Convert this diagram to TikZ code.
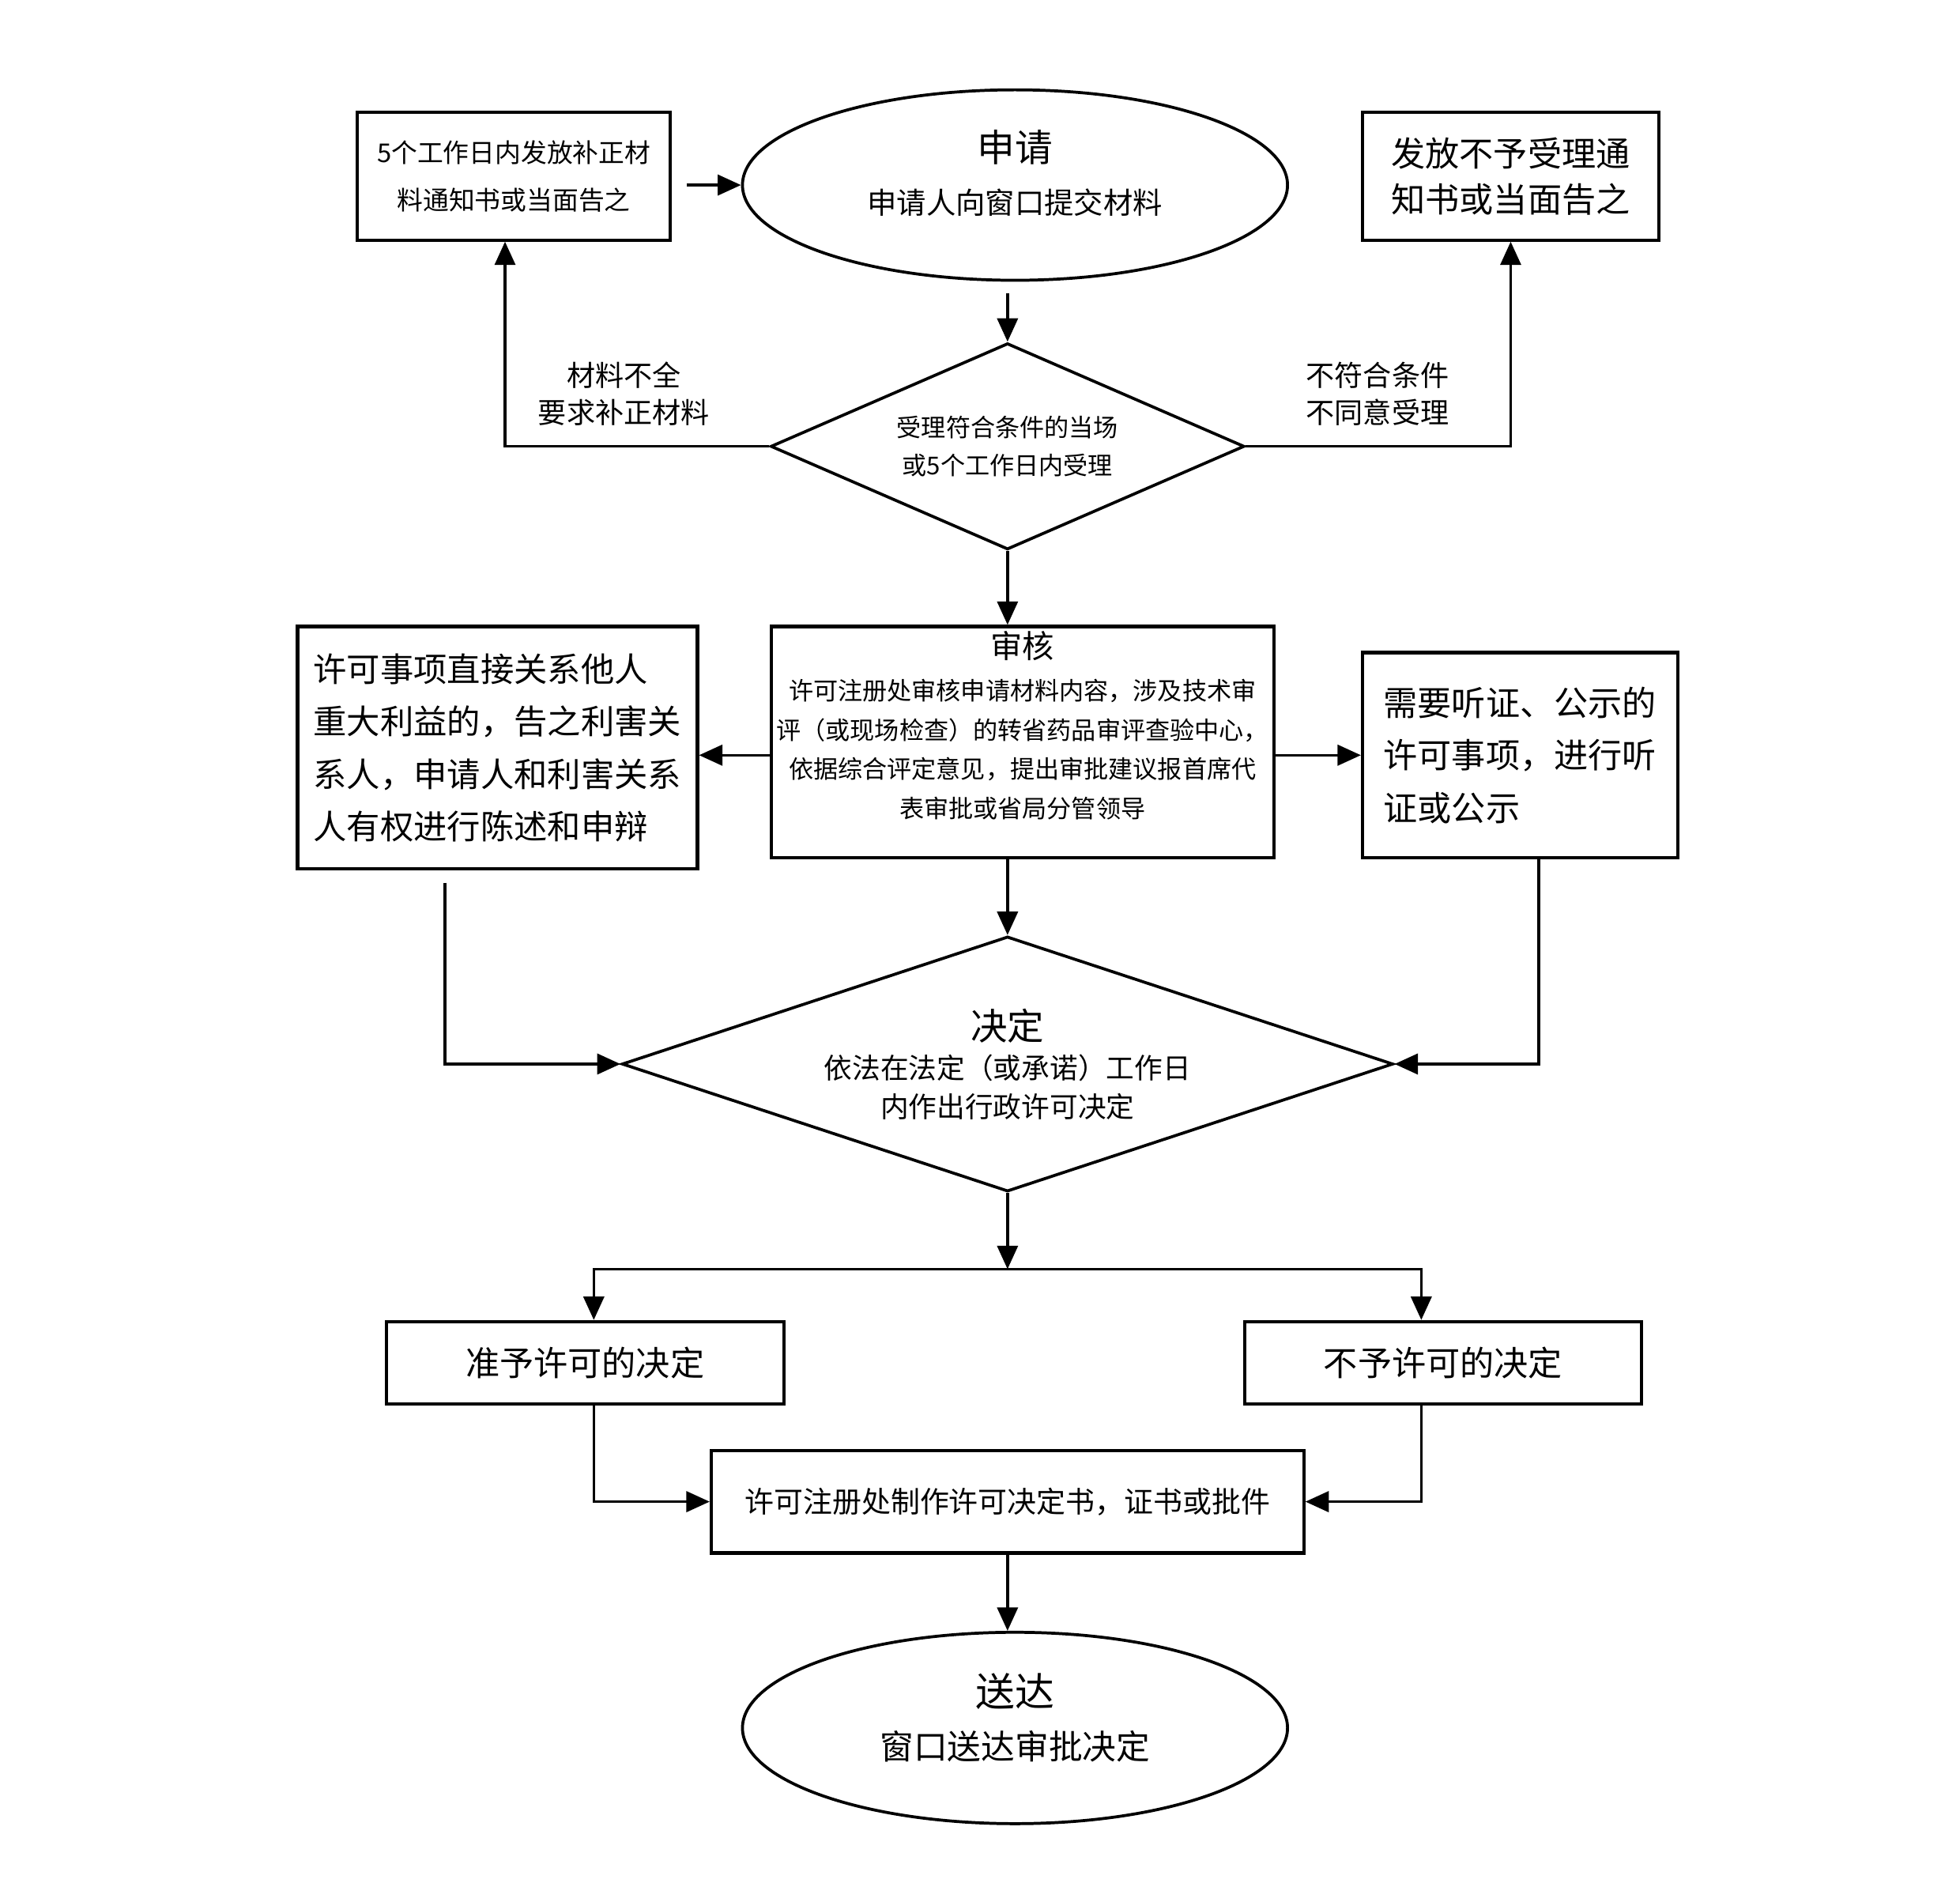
\documentclass[tikz,border=0pt]{standalone}
\usepackage{fontspec}
\setmainfont{Noto Sans CJK SC}
\usetikzlibrary{shapes.geometric,arrows.meta}
\newcommand{\setfs}[2]{\fontsize{#1}{#2}\selectfont}
\tikzset{
  box/.style={draw, line width=1pt, rectangle, inner sep=0pt, align=center},
  oval/.style={draw, line width=0.9pt, ellipse, inner sep=0pt, align=center, minimum width=5.84cm, minimum height=2.04cm},
  decide/.style={draw, line width=0.9pt, diamond, inner sep=0pt, align=center},
  conn/.style={line width=0.85pt},
  inside/.style={align=center, inner sep=0pt},
}
\begin{document}
\begin{tikzpicture}[>={Triangle[length=2.5mm,width=2.2mm]}]
\useasboundingbox (0,0) rectangle (21,-20.371);
\node[box, minimum width=3.349cm, minimum height=1.366cm, font=\setfs{7.9}{14.4}] (supp) at (5.505,-1.888) {5个工作日内发放补正材\\料通知书或当面告之};
\node[oval, label={[inside, yshift=0.13cm, font=\setfs{9}{16}]center:{{\setfs{11.5}{16}申请}\\申请人向窗口提交材料}}] (apply) at (10.875,-1.982) {};
\node[box, minimum width=3.174cm, minimum height=1.366cm, font=\setfs{10.4}{14}] (reject) at (16.186,-1.888) {发放不予受理通\\知书或当面告之};
\node[decide, aspect=2.3, minimum width=5.076cm, minimum height=2.21cm, font=\setfs{7.5}{11.8}] (accept) at (10.795,-4.781) {受理符合条件的当场\\或5个工作日内受理};
\node[font=\setfs{8.7}{11.4}, align=center] (lack) at (6.683,-4.22) {材料不全\\要求补正材料};
\node[font=\setfs{8.7}{11.4}, align=center] (unfit) at (14.759,-4.22) {不符合条件\\不同意受理};
\node[box, minimum width=5.384cm, minimum height=2.478cm,
  label={[anchor=north, inner sep=0pt, yshift=-0.06cm, font=\setfs{9.7}{12}]north:审核},
  label={[inside, yshift=-0.08cm, font=\setfs{7.5}{12}]center:{许可注册处审核申请材料内容，涉及技术审\\评（或现场检查）的转省药品审评查验中心，\\依据综合评定意见，提出审批建议报首席代\\表审批或省局分管领导}}] (review) at (10.955,-7.949) {};
\node[box, align=left, minimum width=4.285cm, minimum height=2.598cm, font=\setfs{10.2}{16}] (notify) at (5.330,-8.009)
  {许可事项直接关系他人\\重大利益的，告之利害关\\系人，申请人和利害关系\\人有权进行陈述和申辩};
\node[box, align=left, minimum width=3.375cm, minimum height=2.197cm, font=\setfs{10.4}{16}] (hearing) at (16.286,-8.089)
  {需要听证、公示的\\许可事项，进行听\\证或公示};
\node[decide, aspect=3.02, minimum width=8.263cm, minimum height=2.732cm, font=\setfs{8.6}{11.8}] (decide) at (10.795,-11.397)
  {{\setfs{11.2}{12.5}决定}\\依法在法定（或承诺）工作日\\内作出行政许可决定};
\node[box, minimum width=4.259cm, minimum height=0.884cm, font=\setfs{10.4}{14}] (grant) at (6.268,-14.598) {准予许可的决定};
\node[box, minimum width=4.246cm, minimum height=0.884cm, font=\setfs{10.4}{14}] (deny) at (15.462,-14.598) {不予许可的决定};
\node[box, minimum width=6.348cm, minimum height=1.098cm, font=\setfs{8.9}{14}] (issue) at (10.795,-16.085) {许可注册处制作许可决定书，证书或批件};
\node[oval, minimum height=2.05cm, label={[inside, yshift=0.11cm, font=\setfs{10.3}{16}]center:{{\setfs{12}{16}送达}\\窗口送达审批决定}}] (deliver) at (10.875,-18.509) {};
\coordinate (lstart) at (4.768,-9.455);
\coordinate (split) at (10.795,-13.594);
\draw[conn,->] ([xshift=0.16cm]supp.east |- apply.west) -- (apply.west);
\draw[conn,->] ([yshift=-0.12cm]accept.north |- apply.south) -- (accept.north);
\draw[conn,->] (accept.west) -| ([xshift=-0.094cm]supp.south);
\draw[conn,->] (accept.east) -| (reject.south);
\draw[conn,->] (accept.south) -- (accept.south |- review.north);
\draw[conn,->] (review.west |- hearing.west) -- (notify.east |- hearing.west);
\draw[conn,->] (review.east |- hearing.west) -- (hearing.west);
\draw[conn,->] (decide.north |- review.south) -- (decide.north);
\draw[conn,->] (lstart) |- (decide.west);
\draw[conn,->] ([xshift=0.2cm]hearing.south) |- (decide.east);
\draw[conn,->] (decide.south) -- (split);
\draw[conn,->] (split) -| ([xshift=0.094cm]grant.north);
\draw[conn,->] (split) -| ([xshift=-0.234cm]deny.north);
\draw[conn,->] ([xshift=0.094cm]grant.south) |- (issue.west);
\draw[conn,->] ([xshift=-0.234cm]deny.south) |- (issue.east);
\draw[conn,->] (issue.south) -- (issue.south |- deliver.north);
\end{tikzpicture}
\end{document}
